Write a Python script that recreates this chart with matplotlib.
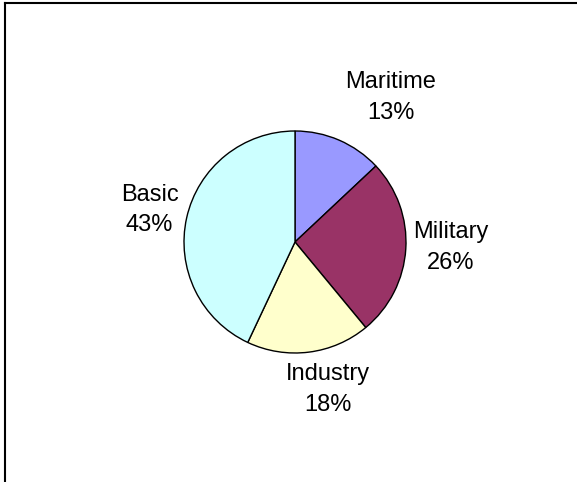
import matplotlib.pyplot as plt
from matplotlib.lines import Line2D

plt.rcParams['font.family'] = ['Liberation Sans', 'DejaVu Sans']

categories = ['Maritime', 'Military', 'Industry', 'Basic']
shares = [13, 26, 18, 43]
colors = ['#9999FF', '#993366', '#FFFFCC', '#CCFFFF']

# label offsets (in pie radii)
label_pos = [(0.865, 1.30), (1.40, -0.05), (0.30, -1.33), (-1.31, 0.29)]

W, H = 577, 482
fig = plt.figure(figsize=(W / 100, H / 100), dpi=100)

cx, cy, r = 295, 242, 111
ax = fig.add_axes([(cx - 2 * r) / W, (H - cy - 2 * r) / H, 4 * r / W, 4 * r / H])
ax.pie(shares, colors=colors, startangle=90, counterclock=False, radius=1,
       wedgeprops=dict(edgecolor='black', linewidth=1.0))
ax.set_xlim(-2, 2)
ax.set_ylim(-2, 2)
ax.set_aspect('auto')
ax.axis('off')

for name, val, (x, y) in zip(categories, shares, label_pos):
    ax.text(x, y, f'{name}\n{val}%', ha='center', va='center',
            fontsize=17, linespacing=1.5)

# partial frame (left and top only)
fig.add_artist(Line2D([5 / W, 5 / W], [0, 1 - 3 / H], color='black', lw=1.5,
                      transform=fig.transFigure))
fig.add_artist(Line2D([5 / W, 1], [1 - 3 / H, 1 - 3 / H], color='black', lw=1.5,
                      transform=fig.transFigure))

fig.savefig('out.png', dpi=100)
